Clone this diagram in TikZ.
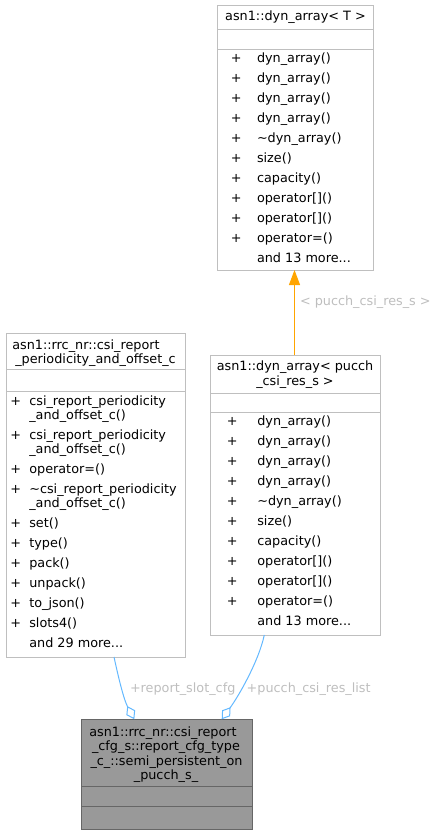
\documentclass[tikz,border=0pt]{standalone}
\usepackage{fontspec}
\setmainfont{DejaVu Sans}
\usetikzlibrary{arrows.meta}
\definecolor{boxgray}{HTML}{BFBFBF}
\definecolor{darkedge}{HTML}{666666}
\definecolor{curfill}{HTML}{999999}
\definecolor{usageblue}{HTML}{63B8FF}
\definecolor{inhorange}{HTML}{FFA500}
\definecolor{labelgray}{HTML}{BEBEBE}
\begin{document}
\begin{tikzpicture}[x=1pt,y=-1pt,
  box/.style={draw=boxgray, fill=white, line width=1pt, inner sep=0pt, outer sep=0pt, anchor=north west},
  curbox/.style={box, draw=darkedge, fill=curfill},
  txt/.style={inner sep=0pt, outer sep=0pt, font=\fontsize{12.8}{14}\selectfont},
  sepline/.style={draw=boxgray, line width=1pt},
  cursep/.style={draw=darkedge, line width=1pt},
  usage/.style={draw=usageblue, line width=1pt, -{Diamond[open,length=15pt,width=10pt]}},
  inherit/.style={draw=inhorange, line width=1pt, -{Triangle[length=15pt,width=11pt]}},
  elabel/.style={txt, text=labelgray, anchor=base west}]
\useasboundingbox (0,0) rectangle (439,835);

% ---------- template box T
\node[box, minimum width=156pt, minimum height=265pt] (T) at (217,5) {};
\draw[sepline] (217,29) -- (373,29);
\draw[sepline] (217,49) -- (373,49);
\node[txt, anchor=base] (Tt) at (295.5,20.7) {asn1::dyn\_array< T >};
\foreach \s [count=\i from 0] in {dyn\_array(),dyn\_array(),dyn\_array(),dyn\_array(),\textasciitilde dyn\_array(),size(),capacity(),operator[](),operator[](),operator=()} {
  \node[txt, anchor=base] (Tp\i) at (236.3,62.5+20*\i) {+};
  \node[txt, anchor=base west] (Tm\i) at (257,62.5+20*\i) {\s};
}
\node[txt, anchor=base west] (Tmore) at (257,262.5) {and 13 more...};

% ---------- instantiated box M
\node[box, minimum width=170pt, minimum height=280pt] (M) at (210,355) {};
\draw[sepline] (210,393) -- (380,393);
\draw[sepline] (210,412) -- (380,412);
\node[txt, anchor=base] (Mt1) at (295,370.7) {asn1::dyn\_array< pucch};
\node[txt, anchor=base] (Mt2) at (295,385) {\_csi\_res\_s >};
\foreach \s [count=\i from 0] in {dyn\_array(),dyn\_array(),dyn\_array(),dyn\_array(),\textasciitilde dyn\_array(),size(),capacity(),operator[](),operator[](),operator=()} {
  \node[txt, anchor=base] (Mp\i) at (232.3,425.5+20*\i) {+};
  \node[txt, anchor=base west] (Mm\i) at (257.3,425.5+20*\i) {\s};
}
\node[txt, anchor=base west] (Mmore) at (257.3,625.5) {and 13 more...};

% ---------- left box L
\node[box, minimum width=179pt, minimum height=324pt] (L) at (6,333) {};
\draw[sepline] (6,369) -- (185,369);
\draw[sepline] (6,391) -- (185,391);
\node[txt, anchor=base west] (Lt1) at (12.3,349) {asn1::rrc\_nr::csi\_report};
\node[txt, anchor=base] (Lt2) at (95.5,363) {\_periodicity\_and\_offset\_c};
\foreach \y/\s [count=\i] in {405/csi\_report\_periodicity,439/csi\_report\_periodicity,473/operator=(),493/\textasciitilde csi\_report\_periodicity,527/set(),547/type(),567/pack(),587/unpack(),607/to\_json(),627/slots4()} {
  \node[txt, anchor=base] (Lp\i) at (15.8,\y) {+};
  \node[txt, anchor=base west] (Lm\i) at (29.3,\y) {\s};
}
\foreach \y [count=\i] in {419,453,507} {
  \node[txt, anchor=base west] (Lw\i) at (29.3,\y) {\_and\_offset\_c()};
}
\node[txt, anchor=base west] (Lmore) at (29.3,647) {and 29 more...};

% ---------- current box B
\node[curbox, minimum width=171pt, minimum height=110pt] (B) at (81.7,719.3) {};
\draw[cursep] (81.7,786.7) -- (252.7,786.7);
\draw[cursep] (81.7,806.7) -- (252.7,806.7);
\node[txt, anchor=base west] (Bt1) at (89.3,736.5) {asn1::rrc\_nr::csi\_report};
\node[txt, anchor=base] (Bt2) at (166,750.8) {\_cfg\_s::report\_cfg\_type};
\node[txt, anchor=base] (Bt3) at (166.5,765.1) {\_c\_::semi\_persistent\_on};
\node[txt, anchor=base] (Bt4) at (166,779.4) {\_pucch\_s\_};

% ---------- connectors
\draw[inherit] ([xshift=-0.5pt]M.north) -- ([xshift=-0.5pt]T.south);
\node[elabel] (lab1) at (300,305) {< pucch\_csi\_res\_s >};

\coordinate (la) at ([xshift=18.5pt]L.south);
\coordinate (lb) at ([xshift=-32.9pt]B.north);
\draw[usage] (la) .. controls (119,680) and (124,700) .. (lb);
\node[elabel] (lab2) at (130,692) {+report\_slot\_cfg};

\coordinate (ra) at ([xshift=-30.7pt]M.south);
\coordinate (rb) at ([xshift=54.5pt]B.north);
\draw[usage] (ra) .. controls (258.5,662) and (238,697) .. (rb);
\node[elabel] (lab3) at (246.7,692) {+pucch\_csi\_res\_list};
\end{tikzpicture}
\end{document}
